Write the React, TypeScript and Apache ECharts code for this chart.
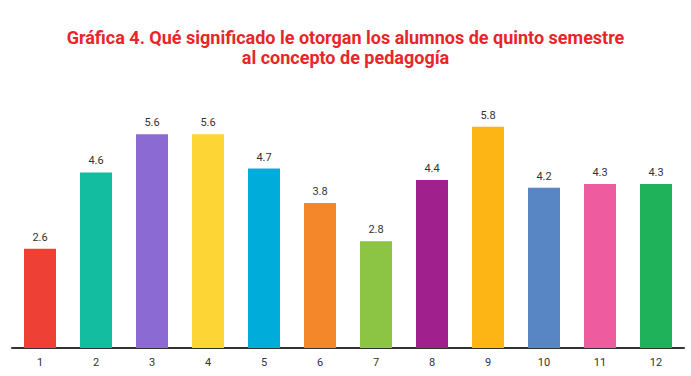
import React, { useEffect, useRef } from "react";
import * as echarts from "echarts";

const categories = ["1", "2", "3", "4", "5", "6", "7", "8", "9", "10", "11", "12"];
const values = [2.6, 4.6, 5.6, 5.6, 4.7, 3.8, 2.8, 4.4, 5.8, 4.2, 4.3, 4.3];
const barColors = [
  "#ee4035", "#13bda0", "#8b6bd3", "#fdd535", "#00acd9", "#f5872b",
  "#8cc543", "#a0218e", "#fdb515", "#5886c5", "#ef5b9f", "#1fb25a",
];
const titleText = "Gráfica 4. Qué significado le otorgan los alumnos de quinto semestre\nal concepto de pedagogía";

export default function App() {
  const ref = useRef<HTMLDivElement>(null);
  useEffect(() => {
    if (!ref.current) return;
    const chart = echarts.init(ref.current, null, { renderer: "svg" });
    chart.setOption({
      animation: false,
      backgroundColor: "#ffffff",
      title: {
        text: titleText,
        left: "center",
        top: 22,
        textStyle: {
          fontFamily: "Roboto",
          fontWeight: "bold",
          fontSize: 18,
          lineHeight: 20,
          color: "#e8262a",
        },
      },
      grid: { left: 12, right: 7, top: 119, bottom: 28, containLabel: false },
      xAxis: {
        type: "category",
        data: categories,
        axisLine: { show: true, lineStyle: { color: "#333333", width: 2 } },
        axisTick: { show: false },
        axisLabel: {
          color: "#333333",
          fontFamily: "Roboto",
          fontSize: 11,
          margin: 9,
        },
      },
      yAxis: {
        type: "value",
        min: 0,
        max: 6,
        show: false,
        splitLine: { show: false },
      },
      series: [
        {
          type: "bar",
          data: values.map((v, i) => ({ value: v, itemStyle: { color: barColors[i] } })),
          barWidth: 32,
          label: {
            show: true,
            position: "top",
            distance: 6,
            color: "#333333",
            fontFamily: "Roboto",
            fontSize: 11,
            formatter: (p: any) => p.value.toFixed(1),
          },
        },
      ],
    });
    return () => chart.dispose();
  }, []);
  return <div ref={ref} style={{ width: 691, height: 376, position: "absolute", left: 0, top: 0 }} />;
}
